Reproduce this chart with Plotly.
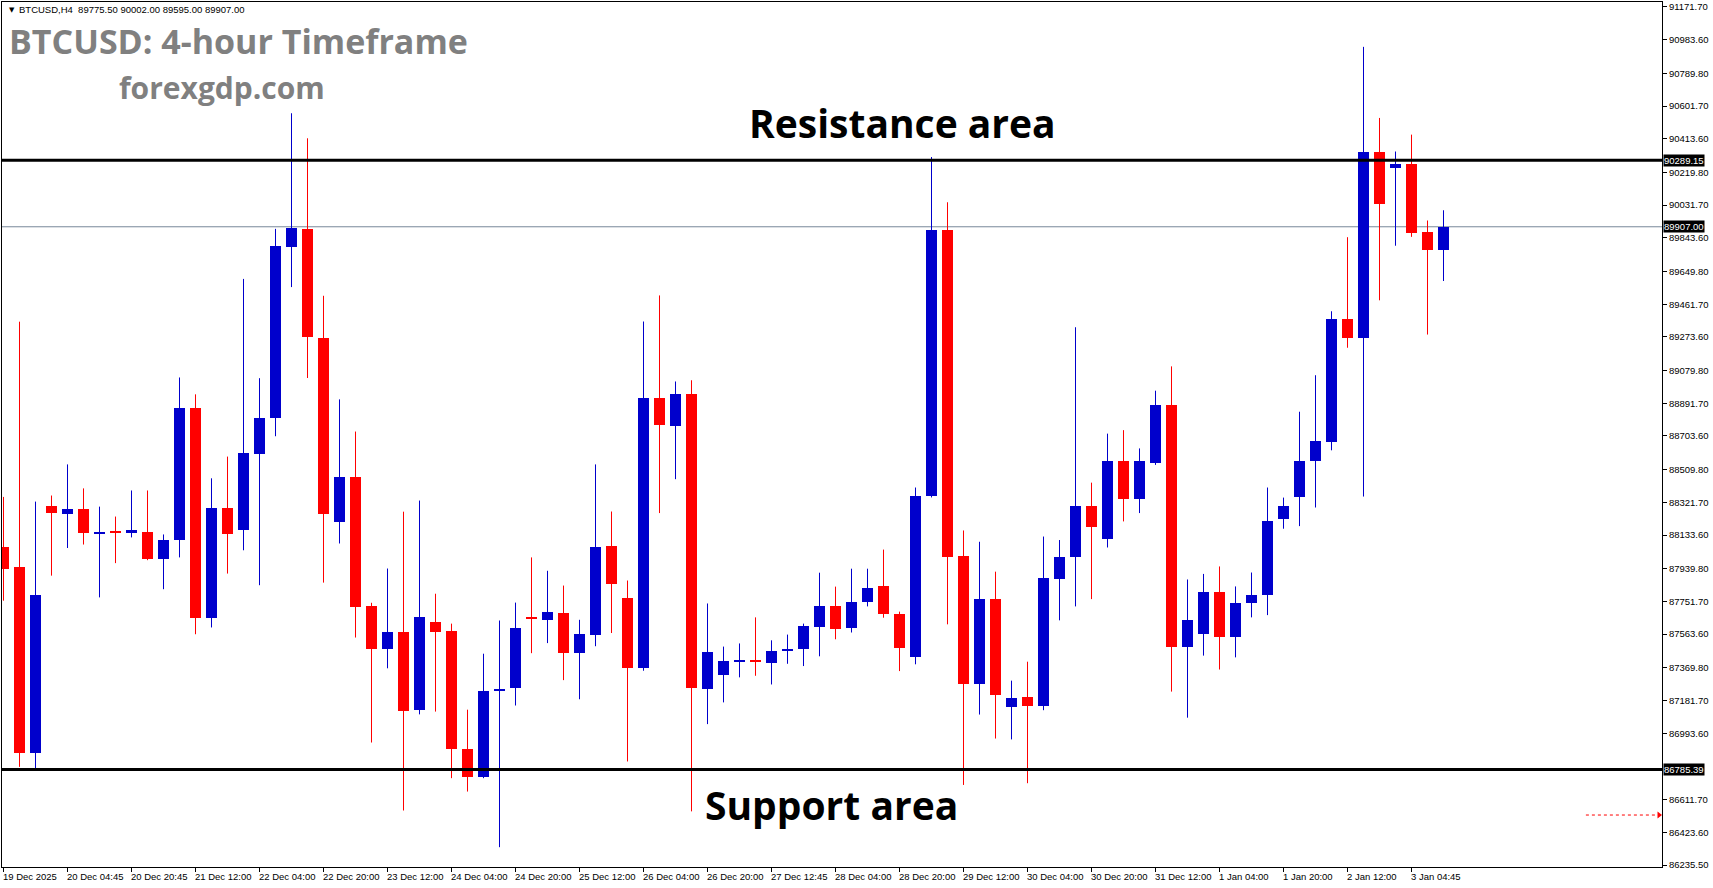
import plotly.graph_objects as go

# ---------------- data ----------------
idx = list(range(-1, 90))
opens = [88065, 87952, 86882, 88303, 88254, 88281, 88145, 88154, 88145, 88153,
         87993, 88104, 88863, 87655, 88291, 88161, 88599, 88807, 89788, 89895,
         89270, 88211, 88470, 87727, 87476, 87577, 87125, 87635, 87584, 86905,
         86739, 87239, 87252, 87660, 87644, 87687, 87454, 87561, 88072, 87774,
         87368, 88921, 88762, 88943, 87248, 87330, 87404, 87409, 87395, 87467,
         87476, 87604, 87727, 87598, 87748, 87838, 87680, 87430, 88357, 89886,
         88015, 87276, 87763, 87143, 87203, 87151, 87880, 88005, 88302, 88110,
         88557, 88340, 88547, 88879, 87488, 87563, 87808, 87545, 87740, 87788,
         88226, 88355, 88559, 88667, 89376, 89268, 90335, 90246, 90266, 89875,
         89775.5]
highs = [88353, 89361, 88326, 88361, 88540, 88402, 88297, 88240, 88390, 88390,
         88137, 89040, 88943, 88460, 88585, 89607, 89036, 89895, 90560, 90416,
         89510, 88914, 88729, 87744, 87941, 88268, 88332, 87796, 87624, 87129,
         87451, 87642, 87745, 88005, 87928, 87843, 87646, 88540, 88269, 87872,
         89362, 89512, 89017, 89024, 87740, 87492, 87510, 87660, 87528, 87561,
         87624, 87917, 87837, 87940, 87940, 88050, 87693, 88407, 90308, 90048,
         88160, 88095, 87923, 87296, 87405, 88125, 88105, 89329, 88435, 88717,
         88737, 88632, 88964, 89104, 87878, 87910, 87953, 87838, 87918, 88407,
         88349, 88843, 89053, 89421, 89847, 90942, 90533, 90340, 90437, 89943,
         90002]
lows = [87756, 86800, 86789, 87900, 88059, 88079, 87775, 87972, 88120, 87989,
        87822, 88005, 87563, 87602, 87912, 88046, 87845, 88702, 89560, 89037,
        87860, 88085, 87544, 86940, 87367, 86549, 87102, 87118, 86735, 86658,
        86735, 86338, 87153, 87454, 87512, 87299, 87189, 87494, 87570, 86831,
        87353, 88260, 88455, 86544, 87046, 87171, 87315, 87324, 87274, 87393,
        87380, 87436, 87534, 87573, 87723, 87658, 87351, 87390, 88350, 87620,
        86696, 87101, 86963, 86958, 86706, 87126, 87643, 87723, 87765, 88062,
        88212, 88260, 88537, 87233, 87083, 87440, 87360, 87430, 87660, 87673,
        88170, 88185, 88292, 88621, 89211, 88355, 89484, 89798, 89849, 89287,
        89595]
closes = [87941, 86882, 87791, 88260, 88281, 88145, 88147, 88148, 88165, 87993,
          88108, 88863, 87655, 88291, 88137, 88604, 88809, 89796, 89900, 89275,
          88254, 88470, 87721, 87476, 87577, 87119, 87663, 87575, 86900, 86739,
          87239, 87243, 87601, 87651, 87691, 87454, 87566, 88067, 87850, 87368,
          88921, 88766, 88943, 87252, 87458, 87407, 87409, 87404, 87469, 87471,
          87613, 87727, 87592, 87750, 87830, 87678, 87483, 88360, 89886, 88005,
          87276, 87763, 87211, 87198, 87151, 87888, 88010, 88302, 88180, 88562,
          88340, 88557, 88884, 87488, 87645, 87808, 87545, 87745, 87790, 88215,
          88298, 88559, 88672, 89376, 89268, 90340, 90036, 90266, 89871, 89775.5,
          89907]

price_ticks = ["91171.70", "90983.60", "90789.80", "90601.70", "90413.60",
               "90219.80", "90031.70", "89843.60", "89649.80", "89461.70",
               "89273.60", "89079.80", "88891.70", "88703.60", "88509.80",
               "88321.70", "88133.60", "87939.80", "87751.70", "87563.60",
               "87369.80", "87181.70", "86993.60", "86611.70", "86423.60",
               "86235.50"]

date_idx = [-1, 3, 7, 11, 15, 19, 23, 27, 31, 35, 39, 43, 47, 51, 55, 59, 63,
            67, 71, 75, 79, 83, 87]
date_labels = ["19 Dec 2025", "20 Dec 04:45", "20 Dec 20:45", "21 Dec 12:00",
               "22 Dec 04:00", "22 Dec 20:00", "23 Dec 12:00", "24 Dec 04:00",
               "24 Dec 20:00", "25 Dec 12:00", "26 Dec 04:00", "26 Dec 20:00",
               "27 Dec 12:45", "28 Dec 04:00", "28 Dec 20:00", "29 Dec 12:00",
               "30 Dec 04:00", "30 Dec 20:00", "31 Dec 12:00", "1 Jan 04:00",
               "1 Jan 20:00", "2 Jan 12:00", "3 Jan 04:45"]

resistance = 90289.15
support = 86785.39
last_price = 89907.00
header_text = "BTCUSD,H4  89775.50 90002.00 89595.00 89907.00"
title_text = "BTCUSD: 4-hour Timeframe"
site_text = "forexgdp.com"
res_text = "Resistance area"
sup_text = "Support area"

# ---------------- layout geometry ----------------
W, H = 1713, 888
ML, MR, MT, MB = 2, 51, 2, 21
PW, PH = W - ML - MR, H - MT - MB
SPACING = 16.0
X_LO = -1 - (3.5 - ML) / SPACING
X_HI = X_LO + PW / SPACING
Y_LO, Y_HI = 86224.0, 91200.0
PPP = (Y_HI - Y_LO) / PH

def px2paper(px):
    return (px - ML) / PW

def py2paper(py):
    return (H - MB - py) / PH

BLUE = "#0000CC"
RED = "#FF0000"
SMALL = dict(family="Liberation Sans, Arial, sans-serif", size=9.5, color="black")

up = [c >= o for o, c in zip(opens, closes)]
colors = [BLUE if u else RED for u in up]
base = [min(o, c) for o, c in zip(opens, closes)]
height = [max(abs(c - o), 1.4 * PPP) for o, c in zip(opens, closes)]

def wick_xy(flag):
    xs, ys = [], []
    for i, h, l, u in zip(idx, highs, lows, up):
        if u == flag:
            xs += [i, i, None]
            ys += [l, h, None]
    return xs, ys

fig = go.Figure()
for flag, col in ((True, BLUE), (False, RED)):
    wx, wy = wick_xy(flag)
    fig.add_trace(go.Scatter(x=wx, y=wy, mode="lines",
                             line=dict(color=col, width=1),
                             hoverinfo="skip", showlegend=False))
fig.add_trace(go.Bar(x=idx, y=height, base=base, width=0.69,
                     marker=dict(color=colors, line=dict(width=0)),
                     showlegend=False))

# shift marker (red dashed arrow)
SHIFT_X0, SHIFT_X1, SHIFT_Y = 97.9, 102.55, 86523
fig.add_trace(go.Scatter(x=[SHIFT_X0, SHIFT_X1 - 0.15], y=[SHIFT_Y, SHIFT_Y], mode="lines",
                         line=dict(color=RED, width=1, dash="3px,3px"),
                         hoverinfo="skip", showlegend=False))
fig.add_trace(go.Scatter(x=[SHIFT_X1 - 0.08], y=[SHIFT_Y], mode="markers",
                         marker=dict(symbol="triangle-right", size=6, color=RED,
                                     line=dict(width=0)),
                         hoverinfo="skip", showlegend=False))

shapes = [
    dict(type="line", xref="paper", x0=0, x1=1, yref="y", y0=last_price, y1=last_price,
         line=dict(color="#778899", width=1), layer="below"),
    dict(type="line", xref="paper", x0=0, x1=1, yref="y", y0=resistance, y1=resistance,
         line=dict(color="black", width=3)),
    dict(type="line", xref="paper", x0=0, x1=1, yref="y", y0=support, y1=support,
         line=dict(color="black", width=3)),
]

ann = []
for i, lab in zip(date_idx, date_labels):
    ann.append(dict(x=i, xref="x", y=py2paper(876), yref="paper", text=lab,
                    showarrow=False, xanchor="left", yanchor="middle", xshift=-3,
                    font=SMALL))
for val in (resistance, last_price, support):
    ann.append(dict(x=1, xref="paper", y=val, yref="y", text="%.2f" % val,
                    showarrow=False, xanchor="left", yanchor="middle", xshift=1,
                    bgcolor="black", borderpad=0,
                    font=dict(family=SMALL["family"], size=9.5, color="white")))
ann.append(dict(x=px2paper(7), xref="paper", y=py2paper(10), yref="paper", text="▼",
                showarrow=False, xanchor="left", yanchor="middle",
                font=dict(family="DejaVu Sans", size=7, color="black")))
ann.append(dict(x=px2paper(17), xref="paper", y=py2paper(10), yref="paper",
                text=header_text.replace(" ", "\u00a0"),
                showarrow=False, xanchor="left", yanchor="middle", font=SMALL))
ann.append(dict(x=px2paper(7), xref="paper", y=py2paper(41), yref="paper",
                text="<b>%s</b>" % title_text, showarrow=False,
                xanchor="left", yanchor="middle",
                font=dict(family="Open Sans", size=34, color="#808080")))
ann.append(dict(x=px2paper(117), xref="paper", y=py2paper(88), yref="paper",
                text="<b>%s</b>" % site_text, showarrow=False,
                xanchor="left", yanchor="middle",
                font=dict(family="Open Sans", size=30, color="#808080")))
ann.append(dict(x=px2paper(902), xref="paper", y=py2paper(123), yref="paper",
                text="<b>%s</b>" % res_text, showarrow=False,
                xanchor="center", yanchor="middle",
                font=dict(family="Open Sans", size=39, color="black")))
ann.append(dict(x=px2paper(831), xref="paper", y=py2paper(804), yref="paper",
                text="<b>%s</b>" % sup_text, showarrow=False,
                xanchor="center", yanchor="middle",
                font=dict(family="Open Sans", size=39, color="black")))

fig.update_layout(
    width=W, height=H,
    margin=dict(l=ML, r=MR, t=MT, b=MB, pad=0),
    paper_bgcolor="white", plot_bgcolor="white",
    barmode="overlay", bargap=0,
    showlegend=False,
    shapes=shapes, annotations=ann,
    xaxis=dict(range=[X_LO, X_HI], showgrid=False, zeroline=False,
               showline=True, linecolor="black", linewidth=1, mirror=True,
               tickmode="array", tickvals=date_idx, ticks="outside", ticklen=4,
               tickcolor="black", showticklabels=False, fixedrange=True),
    yaxis=dict(range=[Y_LO, Y_HI], side="right", showgrid=False, zeroline=False,
               showline=True, linecolor="black", linewidth=1, mirror=True,
               tickmode="array", tickvals=[float(t) for t in price_ticks],
               ticktext=price_ticks, ticks="outside", ticklen=4, tickcolor="black",
               tickfont=SMALL, fixedrange=True),
)

fig.write_html("out.html")
